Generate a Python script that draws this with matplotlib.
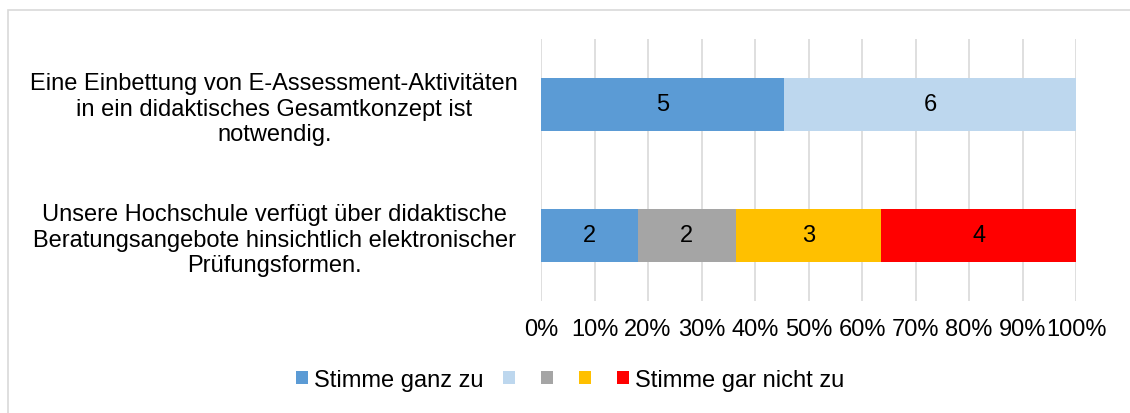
import numpy as np
import matplotlib.pyplot as plt
from matplotlib.patches import Rectangle

plt.rcParams['font.family'] = ['Liberation Sans', 'DejaVu Sans']

# ---- data ----
categories = [
    "Eine Einbettung von E-Assessment-Aktivitäten\nin ein didaktisches Gesamtkonzept ist\nnotwendig.",
    "Unsere Hochschule verfügt über didaktische\nBeratungsangebote hinsichtlich elektronischer\nPrüfungsformen.",
]
series_names = ["Stimme ganz zu", "", "", "", "Stimme gar nicht zu"]
counts = np.array([
    [5, 6, 0, 0, 0],
    [2, 0, 2, 3, 4],
])
colors = ["#5b9bd5", "#bdd7ee", "#a5a5a5", "#ffc000", "#ff0000"]
ticks = np.arange(0, 101, 10)
tick_labels = [f"{t}%" for t in ticks]

FS = 17
W, H = 1130, 414
fig = plt.figure(figsize=(W / 100, H / 100), dpi=100)
ax = fig.add_axes([541 / W, 1 - 302 / H, (1076 - 541) / W, (302 - 40) / H])

pct = counts / counts.sum(axis=1, keepdims=True) * 100
y = np.arange(len(categories))
left = np.zeros(len(categories))
handles = []
for j in range(counts.shape[1]):
    h = ax.barh(y, pct[:, j], left=left, height=0.4, color=colors[j], zorder=2)
    handles.append(h)
    for i in range(len(categories)):
        if counts[i, j] > 0:
            ax.text(left[i] + pct[i, j] / 2, y[i], str(counts[i, j]),
                    ha="center", va="center", fontsize=FS, color="#000000", zorder=3)
    left += pct[:, j]

ax.set_xlim(0, 100)
ax.set_ylim(1.5, -0.5)
ax.set_xticks(ticks)
ax.set_xticklabels(tick_labels, fontsize=FS)
ax.set_yticks(y)
ax.set_yticklabels(categories, fontsize=FS, ha="center", linespacing=1.2)
ax.tick_params(axis="y", length=0, pad=192)
ax.tick_params(axis="x", length=0, pad=12)
ax.xaxis.grid(True, color="#d9d9d9", linewidth=1.2, zorder=0)
for s in ax.spines.values():
    s.set_visible(False)

fig.legend(handles, series_names, loc="center", bbox_to_anchor=(570 / W, 1 - 381 / H),
           ncol=5, frameon=False, fontsize=FS, handlelength=0.5, handleheight=0.5,
           handletextpad=0.25, columnspacing=0.85)

fig.patches.append(Rectangle((7.5 / W, -0.1), 1.2, (414 - 10.5) / H + 0.1,
                             transform=fig.transFigure, fill=False,
                             edgecolor="#d9d9d9", linewidth=1.2))

fig.savefig("out.png", dpi=100)
